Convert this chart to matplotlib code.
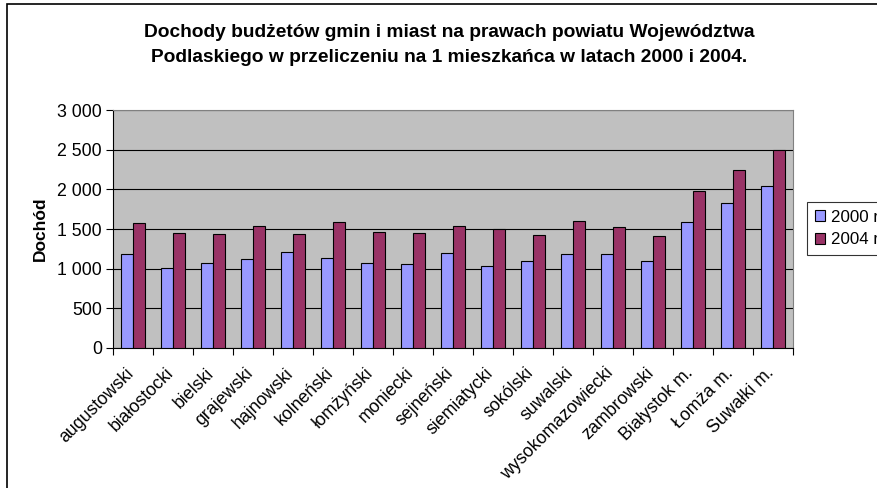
import matplotlib
matplotlib.use("Agg")
import matplotlib.pyplot as plt
import matplotlib.transforms as mtransforms
import numpy as np
from matplotlib.patches import Rectangle

plt.rcParams['font.family'] = ['Liberation Sans', 'DejaVu Sans']

categories = ["augustowski", "białostocki", "bielski", "grajewski", "hajnowski",
              "kolneński", "łomżyński", "moniecki", "sejneński", "siemiatycki",
              "sokólski", "suwalski", "wysokomazowiecki", "zambrowski",
              "Białystok m.", "Łomża m.", "Suwałki m."]
values_2000 = [1181, 1012, 1071, 1118, 1210, 1130, 1071, 1059, 1193, 1029,
               1101, 1181, 1181, 1101, 1584, 1828, 2042]
values_2004 = [1572, 1454, 1437, 1542, 1437, 1584, 1466, 1454, 1542, 1496,
               1420, 1605, 1525, 1408, 1979, 2240, 2496]
series_labels = ["2000 r.", "2004 r."]
yticks = [0, 500, 1000, 1500, 2000, 2500, 3000]
ytick_labels = ["0", "500", "1 000", "1 500", "2 000", "2 500", "3 000"]

W, H = 878, 488
fig = plt.figure(figsize=(W / 100, H / 100), dpi=100)
ax = fig.add_axes([113 / W, 1 - 348 / H, (793 - 113) / W, (348 - 110) / H])
ax.set_facecolor('#C0C0C0')

x = np.arange(len(categories))
bw = 0.3
ax.bar(x - bw / 2, values_2000, bw, color='#9999FF', edgecolor='black', linewidth=0.8,
       label=series_labels[0], zorder=3)
ax.bar(x + bw / 2, values_2004, bw, color='#993366', edgecolor='black', linewidth=0.8,
       label=series_labels[1], zorder=3)

ax.set_xlim(-0.5, len(categories) - 0.5)
ax.set_ylim(0, 3000)
ax.set_yticks(yticks)
ax.set_yticklabels(ytick_labels, fontsize=12.8)
ax.yaxis.grid(True, color='black', linewidth=0.8, zorder=1)
ax.set_axisbelow(True)

ax.set_xticks(x)
ax.set_xticklabels(categories, rotation=45, ha='right', va='top',
                   rotation_mode='anchor', fontsize=12.8)
ax.tick_params(axis='x', which='major', length=0, pad=12)
offset = mtransforms.ScaledTranslation(-8 / 100, 0, fig.dpi_scale_trans)
for lab in ax.get_xticklabels():
    lab.set_transform(lab.get_transform() + offset)
ax.set_xticks(np.arange(-0.5, len(categories) + 0.5, 1), minor=True)
ax.tick_params(axis='x', which='minor', length=5, color='black', width=0.8)
ax.tick_params(axis='y', length=5, width=0.8, pad=3)

for s in ['top', 'right']:
    ax.spines[s].set_color('#808080')
for s in ['left', 'bottom']:
    ax.spines[s].set_color('black')

ax.set_ylabel("Dochód", fontsize=12.5, fontweight='bold', labelpad=7)

fig.text(449 / W, 1 - 45 / H,
         "Dochody budżetów gmin i miast na prawach powiatu Województwa\n"
         "Podlaskiego w przeliczeniu na 1 mieszkańca w latach 2000 i 2004.",
         ha='center', va='center', fontsize=13.8, fontweight='bold', linespacing=1.55)

leg = fig.legend(loc='upper left', bbox_to_anchor=(807 / W, 1 - 202 / H),
                 frameon=True, fancybox=False, edgecolor='black', fontsize=12.2,
                 handlelength=0.6, handleheight=0.6, handletextpad=0.35,
                 borderpad=0.45, borderaxespad=0, labelspacing=0.45)
leg.get_frame().set_linewidth(0.8)
leg._legend_box.sep = 0

fig.patches.append(Rectangle((7 / W, -0.1), 1.1, 1 - 4 / H + 0.1, transform=fig.transFigure,
                             fill=False, edgecolor='black', linewidth=1.2))

fig.savefig("out.png", dpi=100)
